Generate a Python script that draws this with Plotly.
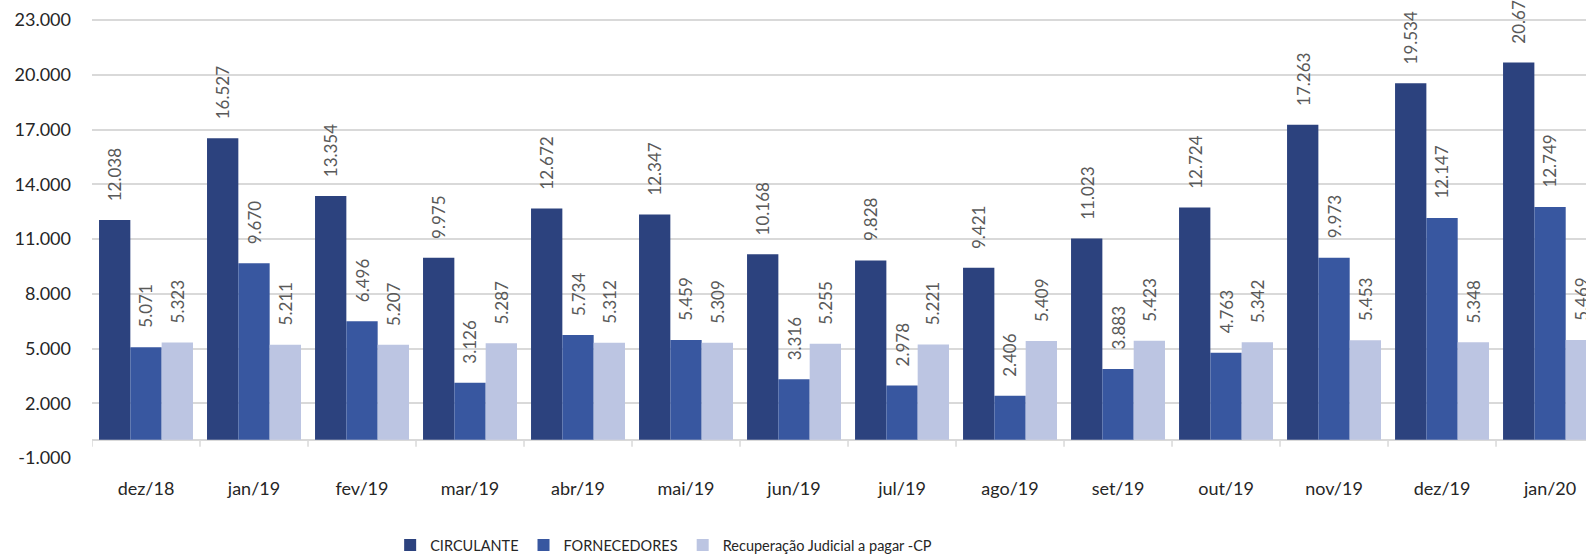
import plotly.graph_objects as go

categories = ["dez/18", "jan/19", "fev/19", "mar/19", "abr/19", "mai/19", "jun/19",
              "jul/19", "ago/19", "set/19", "out/19", "nov/19", "dez/19", "jan/20"]
circulante = [12038, 16527, 13354, 9975, 12672, 12347, 10168, 9828, 9421, 11023, 12724, 17263, 19534, 20675]
fornecedores = [5071, 9670, 6496, 3126, 5734, 5459, 3316, 2978, 2406, 3883, 4763, 9973, 12147, 12749]
recuperacao = [5323, 5211, 5207, 5287, 5312, 5309, 5255, 5221, 5409, 5423, 5342, 5453, 5348, 5469]
series_names = ["CIRCULANTE", "FORNECEDORES", "Recuperação Judicial a pagar -CP"]
y_ticks = [-1000, 2000, 5000, 8000, 11000, 14000, 17000, 20000, 23000]

colors = ["#2c427e", "#3857a0", "#bcc5e2"]
FONT = "Lato"
BARGAP = 0.13

def fmt(v):
    return f"{v:,}".replace(",", ".")

fig = go.Figure()
all_series = [circulante, fornecedores, recuperacao]
for name, vals, col in zip(series_names, all_series, colors):
    fig.add_trace(go.Bar(x=categories, y=vals, name=name, marker=dict(color=col, line=dict(width=0))))

n_series = len(all_series)
slot = (1 - BARGAP) / n_series
annotations = []
for k, vals in enumerate(all_series):
    for i, v in enumerate(vals):
        annotations.append(dict(
            x=i + (k - (n_series - 1) / 2) * slot, y=v, xref="x", yref="y",
            text=fmt(v), showarrow=False, textangle=-90,
            xanchor="center", yanchor="bottom", yshift=17,
            font=dict(family=FONT, size=17, color="#595959")))

shapes = []
for i in range(len(categories) + 1):
    shapes.append(dict(type="line", xref="x", yref="y", x0=i - 0.5, x1=i - 0.5,
                       y0=0, y1=-380, line=dict(color="#d9d9d9", width=1.5)))

fig.update_layout(
    width=1586, height=558,
    margin=dict(l=92, r=0, t=0, b=100, autoexpand=False),
    paper_bgcolor="white", plot_bgcolor="white",
    barmode="group", bargap=BARGAP, bargroupgap=0,
    annotations=annotations, shapes=shapes,
    showlegend=True,
    legend=dict(orientation="h", xref="container", yref="container",
                x=0.246, xanchor="left", y=0.023, yanchor="middle",
                font=dict(family=FONT, size=14.5, color="#262626"),
                traceorder="normal"),
    xaxis=dict(type="category", range=[-0.5, 13.333], showgrid=False, ticks="",
               showline=False, automargin=False,
               tickfont=dict(family=FONT, size=18, color="#262626"),
               ticklabelstandoff=18),
    yaxis=dict(range=[-1000, 24096], tickvals=y_ticks, ticktext=[fmt(t) for t in y_ticks],
               showgrid=True, gridcolor="#d9d9d9", gridwidth=1.5,
               zeroline=True, zerolinecolor="#d9d9d9", zerolinewidth=1.5,
               showline=False, ticks="", ticklabelstandoff=20, automargin=False,
               tickfont=dict(family=FONT, size=18, color="#262626")),
)

fig.write_html("out.html", config={"displayModeBar": False},
               post_script="document.body.style.margin='0';document.body.style.overflow='hidden';")
